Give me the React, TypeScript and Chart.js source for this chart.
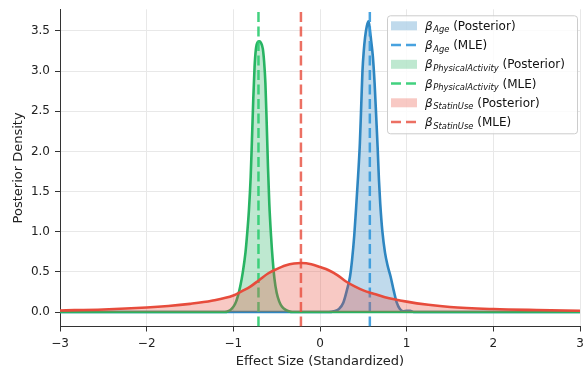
import React, { useEffect, useRef } from 'react';
import { Chart, registerables } from 'chart.js';

Chart.register(...registerables);

const FONT = '"DejaVu Sans", "Liberation Sans", sans-serif';

const xTicks = [-3, -2, -1, 0, 1, 2, 3];
const yTicks = [0, 0.5, 1, 1.5, 2, 2.5, 3, 3.5];
const xRange = [-3, 3];
const yRange = [-0.18, 3.77];

const ageX = [-3, 0.10, 0.16, 0.22, 0.27, 0.31, 0.346, 0.37, 0.395, 0.415, 0.44, 0.46, 0.475, 0.49, 0.505, 0.52, 0.54, 0.56, 0.575, 0.59, 0.61, 0.63, 0.65, 0.665, 0.68, 0.695, 0.72, 0.75, 0.78, 0.815, 0.85, 0.885, 0.92, 0.96, 1.0, 1.04, 1.08, 3];
const ageY = [0, 0, 0.01, 0.04, 0.12, 0.27, 0.44, 0.65, 0.95, 1.27, 1.70, 2.10, 2.55, 3.0, 3.25, 3.42, 3.56, 3.62, 3.52, 3.38, 3.18, 2.85, 2.40, 2.05, 1.65, 1.35, 1.0, 0.74, 0.58, 0.44, 0.27, 0.12, 0.04, 0.01, 0.015, 0.015, 0, 0];

const activityX = [-3, -1.10, -1.06, -1.02, -0.98, -0.95, -0.92, -0.89, -0.86, -0.84, -0.82, -0.80, -0.785, -0.77, -0.755, -0.74, -0.72, -0.70, -0.68, -0.66, -0.645, -0.63, -0.615, -0.60, -0.585, -0.565, -0.545, -0.525, -0.50, -0.47, -0.44, -0.40, -0.36, -0.32, 3];
const activityY = [0, 0, 0.01, 0.04, 0.10, 0.19, 0.32, 0.50, 0.74, 0.98, 1.27, 1.68, 2.15, 2.65, 3.05, 3.27, 3.36, 3.37, 3.35, 3.28, 3.12, 2.85, 2.35, 1.80, 1.35, 0.95, 0.64, 0.41, 0.24, 0.13, 0.07, 0.03, 0.01, 0, 0];

const statinX = [-3, -2.5, -2, -1.75, -1.5, -1.25, -1.0, -0.9, -0.8, -0.7, -0.6, -0.5, -0.4, -0.3, -0.22, -0.1, 0, 0.1, 0.2, 0.3, 0.4, 0.5, 0.6, 0.75, 1.0, 1.25, 1.5, 2.0, 2.5, 3.0];
const statinY = [0.020, 0.032, 0.056, 0.075, 0.102, 0.140, 0.205, 0.26, 0.32, 0.40, 0.48, 0.535, 0.58, 0.605, 0.61, 0.596, 0.56, 0.52, 0.46, 0.38, 0.32, 0.27, 0.235, 0.185, 0.13, 0.09, 0.062, 0.037, 0.025, 0.017];

const mleAge = 0.575;
const mleActivity = -0.71;
const mleStatin = -0.22;

const seriesNames = ['Age', 'PhysicalActivity', 'StatinUse'];
const lineColors = ['#2e86c1', '#28b463', '#e74c3c'];
const fillColors = ['rgba(46,134,193,0.3)', 'rgba(40,180,99,0.3)', 'rgba(231,76,60,0.3)'];
const mleColors = ['rgba(52,152,219,0.9)', 'rgba(46,204,113,0.9)', 'rgba(231,76,60,0.8)'];

const toPoints = (xs: number[], ys: number[]) => xs.map((x, i) => ({ x, y: ys[i] }));
const vline = (x: number) => [{ x, y: yRange[0] }, { x, y: yRange[1] }];

const legendPlugin = {
  id: 'mathLegend',
  afterDraw(chart: any) {
    const ctx = chart.ctx as CanvasRenderingContext2D;
    const area = chart.chartArea;
    const bx = area.right - 193;
    const by = area.top + 6;
    const bw = 190;
    const bh = 118;
    ctx.save();
    ctx.beginPath();
    (ctx as any).roundRect(bx + 0.5, by + 0.5, bw, bh, 3);
    ctx.fillStyle = 'rgba(255,255,255,0.8)';
    ctx.fill();
    ctx.strokeStyle = '#cccccc';
    ctx.lineWidth = 1;
    ctx.stroke();
    for (let i = 0; i < 6; i++) {
      const s = Math.floor(i / 2);
      const isPatch = i % 2 === 0;
      const cy = by + 10.5 + i * 19.25;
      if (isPatch) {
        ctx.fillStyle = fillColors[s];
        ctx.fillRect(bx + 4, cy - 4.5, 26, 9);
      } else {
        ctx.beginPath();
        ctx.setLineDash([10, 5]);
        ctx.strokeStyle = mleColors[s];
        ctx.lineWidth = 2.5;
        ctx.moveTo(bx + 4, cy);
        ctx.lineTo(bx + 30, cy);
        ctx.stroke();
        ctx.setLineDash([]);
      }
      const base = cy + 4;
      let x = bx + 38;
      ctx.fillStyle = '#111';
      ctx.textBaseline = 'alphabetic';
      ctx.textAlign = 'left';
      ctx.font = `italic 12px ${FONT}`;
      ctx.fillText('β', x, base);
      x += ctx.measureText('β').width + 0.5;
      ctx.font = `italic 8.4px ${FONT}`;
      ctx.fillText(seriesNames[s], x, base + 2.6);
      x += ctx.measureText(seriesNames[s]).width;
      ctx.font = `12px ${FONT}`;
      ctx.fillText(isPatch ? ' (Posterior)' : ' (MLE)', x, base);
    }
    ctx.restore();
  },
};

export default function App() {
  const ref = useRef<HTMLCanvasElement>(null);
  useEffect(() => {
    if (!ref.current) return;
    const curve = (i: number, xs: number[], ys: number[], order: number) => ({
      type: 'line' as const,
      data: toPoints(xs, ys),
      borderColor: lineColors[i],
      backgroundColor: fillColors[i],
      borderWidth: 2.6,
      fill: 'origin',
      pointRadius: 0,
      cubicInterpolationMode: 'monotone' as const,
      order,
    });
    const mle = (i: number, x: number, order: number) => ({
      type: 'line' as const,
      data: vline(x),
      borderColor: mleColors[i],
      borderWidth: 2.5,
      borderDash: [10, 4.5],
      fill: false,
      pointRadius: 0,
      order,
    });
    const chart = new Chart(ref.current, {
      type: 'line',
      data: {
        datasets: [
          curve(0, ageX, ageY, 9),
          mle(0, mleAge, 8),
          curve(1, activityX, activityY, 7),
          mle(1, mleActivity, 6),
          curve(2, statinX, statinY, 5),
          mle(2, mleStatin, 4),
        ] as any,
      },
      options: {
        responsive: false,
        animation: false,
        layout: { padding: { top: 9.3, right: 3, left: 0, bottom: 0 } },
        plugins: { legend: { display: false }, tooltip: { enabled: false } },
        scales: {
          x: {
            type: 'linear',
            min: xRange[0],
            max: xRange[1],
            afterBuildTicks: (s: any) => { s.ticks = xTicks.map((v) => ({ value: v })); },
            afterFit: (s: any) => { s.height = 42.5; s.paddingLeft = 0; s.paddingRight = 0; },
            ticks: {
              callback: (v: any) => String(v).replace('-', '\u2212'),
              font: { family: FONT, size: 12 },
              color: '#222',
              padding: 5,
              maxRotation: 0,
              autoSkip: false,
            },
            grid: { color: '#e8e8e8', lineWidth: 1, tickLength: 5, tickColor: '#333', tickWidth: 1 },
            border: { display: true, color: '#333', width: 1 },
            title: { display: true, text: 'Effect Size (Standardized)', font: { family: FONT, size: 13 }, color: '#222', padding: { top: 0, bottom: 0 } },
          },
          y: {
            type: 'linear',
            min: yRange[0],
            max: yRange[1],
            afterBuildTicks: (s: any) => { s.ticks = yTicks.map((v) => ({ value: v })); },
            afterFit: (s: any) => { s.width = 60; s.paddingTop = 0; s.paddingBottom = 0; },
            ticks: {
              callback: (v: any) => Number(v).toFixed(1),
              font: { family: FONT, size: 12 },
              color: '#222',
              padding: 5,
              autoSkip: false,
            },
            grid: { color: '#e8e8e8', lineWidth: 1, tickLength: 5, tickColor: '#333', tickWidth: 1 },
            border: { display: true, color: '#333', width: 1 },
            title: { display: true, text: 'Posterior Density', font: { family: FONT, size: 13 }, color: '#222', padding: { top: 11, bottom: 0 } },
          },
        },
      } as any,
      plugins: [legendPlugin],
    });
    return () => chart.destroy();
  }, []);
  return (
    <div style={{ position: 'absolute', left: 0, top: 0, width: 583, height: 369 }}>
      <canvas ref={ref} width={583} height={369} style={{ display: 'block', width: '583px', height: '369px' }} />
    </div>
  );
}
